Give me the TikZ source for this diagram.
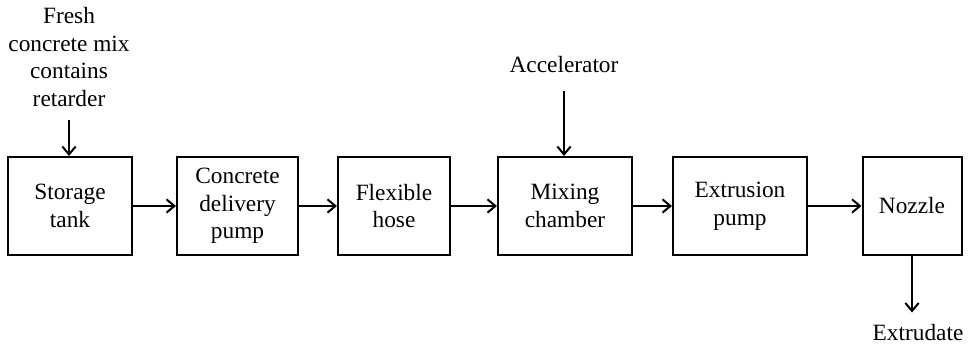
\documentclass[tikz,border=0pt]{standalone}
\usepackage{fontspec}
\setmainfont{Liberation Serif}
\usepackage{tikz}
\usetikzlibrary{arrows.meta,positioning,calc}

\begin{document}
\begin{tikzpicture}[x=0.75pt,y=-0.75pt,
    block/.style={draw,line width=1.5pt,inner sep=0pt,align=center,
      minimum height=73.5pt,font=\fontsize{17.5}{20.8}\selectfont},
    label/.style={inner sep=2pt,align=center,font=\fontsize{17.5}{20.8}\selectfont},
    flow/.style={line width=1.5pt,-{Straight Barb[length=6pt,width=10pt,line width=1.5pt]}}]
  \useasboundingbox (0,0) rectangle (973,351);
  \node[block,minimum width=93pt]    (tank)  at (70,206)    {Storage\\tank};
  \node[block,minimum width=90.75pt] (pump)  at (237.5,206) {Concrete\\delivery\\pump};
  \node[block,minimum width=84pt]    (hose)  at (394,206)   {Flexible\\hose};
  \node[block,minimum width=100.5pt] (mix)   at (565,206)   {Mixing\\chamber};
  \node[block,minimum width=100.5pt] (extr)  at (740,206)   {Extrusion\\pump};
  \node[block,minimum width=74.25pt] (nozzle) at (912,206)  {Nozzle};
  \node[label] (fresh) at (69,57) {Fresh\\concrete mix\\contains\\retarder};
  \node[label] (accel) at (564,65) {Accelerator};
  \node[label] (extrudate) at (918,333) {Extrudate};
  \draw[flow] (tank) -- (pump);
  \draw[flow] (pump) -- (hose);
  \draw[flow] (hose) -- (mix);
  \draw[flow] (mix) -- (extr);
  \draw[flow] (extr) -- (nozzle);
  \draw[flow] ([yshift=-8pt]fresh.south) -- (fresh.south |- tank.north);
  \draw[flow] ([yshift=-11pt]accel.south) -- (accel.south |- mix.north);
  \draw[flow] (nozzle.south) -- ([yshift=7pt]nozzle.south |- extrudate.north);
\end{tikzpicture}
\end{document}
